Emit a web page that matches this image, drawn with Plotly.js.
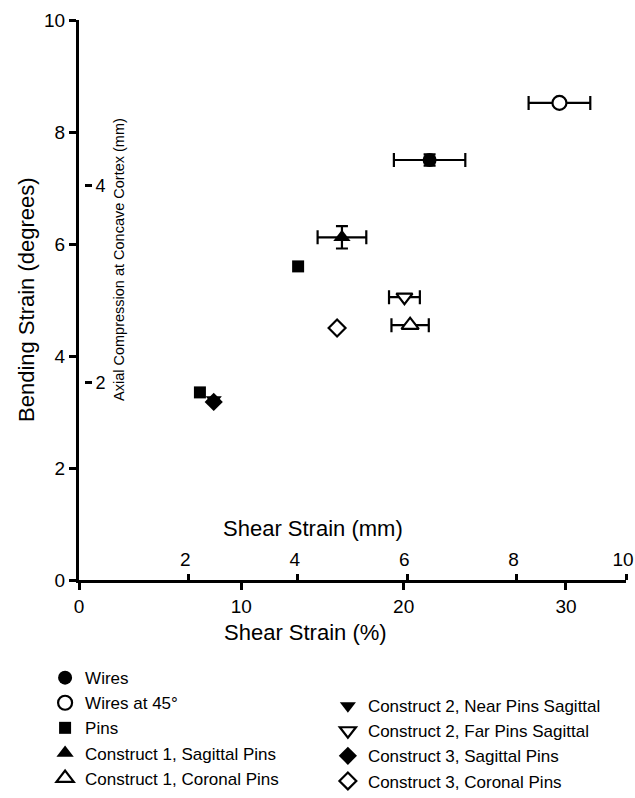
<!DOCTYPE html>
<html><head><meta charset="utf-8">
<script src="https://cdn.plot.ly/plotly-3.0.1.min.js"></script>
<style>html,body{margin:0;padding:0;background:#fff}#chart{width:635px;height:798px}</style>
</head><body><div id="chart"></div>
<script>
// Series data (x = shear strain %, y = bending strain degrees)
const seriesNames = ["Wires","Wires at 45°","Pins","Construct 1, Sagittal Pins","Construct 1, Coronal Pins",
  "Construct 2, Near Pins Sagittal","Construct 2, Far Pins Sagittal","Construct 3, Sagittal Pins","Construct 3, Coronal Pins"];
const wiresX = [21.6], wiresY = [7.5], wiresXErr = [2.2], wiresYErr = [0.1];
const wires45X = [29.6], wires45Y = [8.52], wires45XErr = [1.9];
const pinsX = [7.45, 13.5], pinsY = [3.35, 5.6];
const c1SagX = [16.2], c1SagY = [6.12], c1SagXErr = [1.5], c1SagYErr = [0.2];
const c1CorX = [20.4], c1CorY = [4.55], c1CorXErr = [1.15];
const c2NearX = [8.3], c2NearY = [3.22];
const c2FarX = [20.05], c2FarY = [5.05], c2FarXErr = [0.95];
const c3SagX = [8.3], c3SagY = [3.18];
const c3CorX = [15.9], c3CorY = [4.5];
// Axis ticks
const xPctTicks = [0,10,20,30];
const xMmTicks = [2,4,6,8,10];
const yDegTicks = [0,2,4,6,8,10];
const yMmTicks = [2,4];

const F = "Liberation Sans, Arial, sans-serif";
function errX(a){return a?{type:'data',array:a,visible:true,color:'#000',thickness:2.2,width:7}:{visible:false};}
function errY(a){return a?{type:'data',array:a,visible:true,color:'#000',thickness:2.2,width:6}:{visible:false};}
function tr(name,x,y,sym,open,size,ex,ey,leg){
  return {type:'scatter',mode:'markers',name:name,x:x,y:y,legend:leg,
    marker:{symbol:sym,size:size,color:open?'#fff':'#000',line:{color:'#000',width:open?2.2:0}},
    error_x:errX(ex),error_y:errY(ey),cliponaxis:false};
}
const data = [
  tr(seriesNames[0],wiresX,wiresY,'circle',false,14,wiresXErr,wiresYErr,'legend'),
  tr(seriesNames[1],wires45X,wires45Y,'circle',true,14,wires45XErr,null,'legend'),
  tr(seriesNames[2],pinsX,pinsY,'square',false,12,null,null,'legend'),
  tr(seriesNames[3],c1SagX,c1SagY,'triangle-up',false,15,c1SagXErr,c1SagYErr,'legend'),
  tr(seriesNames[4],c1CorX,c1CorY,'triangle-up',true,15,c1CorXErr,null,'legend'),
  tr(seriesNames[5],c2NearX,c2NearY,'triangle-down',false,14,null,null,'legend2'),
  tr(seriesNames[6],c2FarX,c2FarY,'triangle-down',true,14,c2FarXErr,null,'legend2'),
  tr(seriesNames[7],c3SagX,c3SagY,'diamond',false,14,null,null,'legend2'),
  tr(seriesNames[8],c3CorX,c3CorY,'diamond',true,13,null,null,'legend2'),
  // empty traces that bring up the secondary axes
  {type:'scatter',x:[],y:[],xaxis:'x2',yaxis:'y',showlegend:false,hoverinfo:'skip'},
  {type:'scatter',x:[],y:[],xaxis:'x',yaxis:'y2',showlegend:false,hoverinfo:'skip'}
];
const axBase = {showgrid:false,zeroline:false,ticks:'outside',tickcolor:'#000',tickwidth:3,ticklen:7,
  tickfont:{family:F,size:19,color:'#000'},ticklabeloverflow:'allow'};
const layout = {
  width:635,height:798,margin:{l:79,r:9,t:20,b:218,autoexpand:false},
  paper_bgcolor:'#fff',plot_bgcolor:'#fff',font:{family:F,color:'#000'},
  xaxis:Object.assign({},axBase,{range:[0,33.7],tickvals:xPctTicks,ticktext:xPctTicks.map(String),
    showline:true,linecolor:'#000',linewidth:3}),
  xaxis2:Object.assign({},axBase,{overlaying:'x',side:'top',anchor:'free',position:0,range:[0,10],
    tickvals:xMmTicks,ticktext:xMmTicks.map(String),showline:false,ticklen:6,ticklabelshift:-3}),
  yaxis:Object.assign({},axBase,{range:[0,10],tickvals:yDegTicks,ticktext:yDegTicks.map(String),
    showline:true,linecolor:'#000',linewidth:3}),
  yaxis2:Object.assign({},axBase,{overlaying:'y',side:'right',anchor:'free',position:0.009,range:[0,5.68],
    tickvals:yMmTicks,ticktext:yMmTicks.map(String),showline:false,ticklen:7,tickfont:{family:F,size:18,color:'#000'}}),
  showlegend:true,
  legend:{x:-0.062,xanchor:'left',y:-0.143,yanchor:'top',font:{family:F,size:17,color:'#000'},
    bgcolor:'rgba(0,0,0,0)',tracegroupgap:0},
  legend2:{x:0.455,xanchor:'left',y:-0.193,yanchor:'top',font:{family:F,size:17,color:'#000'},
    bgcolor:'rgba(0,0,0,0)',tracegroupgap:0},
  annotations:[
    {text:'Bending Strain (degrees)',xref:'paper',yref:'paper',x:(26-79)/547,y:(580-300)/560,
      xanchor:'center',yanchor:'middle',textangle:-90,showarrow:false,font:{family:F,size:22,color:'#000'}},
    {text:'Axial Compression at Concave Cortex (mm)',xref:'paper',yref:'paper',x:(119-79)/547,y:(580-260)/560,
      xanchor:'center',yanchor:'middle',textangle:-90,showarrow:false,font:{family:F,size:14.5,color:'#000'}},
    {text:'Shear Strain (%)',xref:'paper',yref:'paper',x:(305-79)/547,y:(580-633)/560,
      xanchor:'center',yanchor:'middle',showarrow:false,font:{family:F,size:22,color:'#000'}},
    {text:'Shear Strain (mm)',xref:'paper',yref:'paper',x:(313-79)/547,y:(580-528)/560,
      xanchor:'center',yanchor:'middle',showarrow:false,font:{family:F,size:22,color:'#000'}}
  ]
};
Plotly.newPlot('chart',data,layout,{displayModeBar:false,staticPlot:true});
</script></body></html>
